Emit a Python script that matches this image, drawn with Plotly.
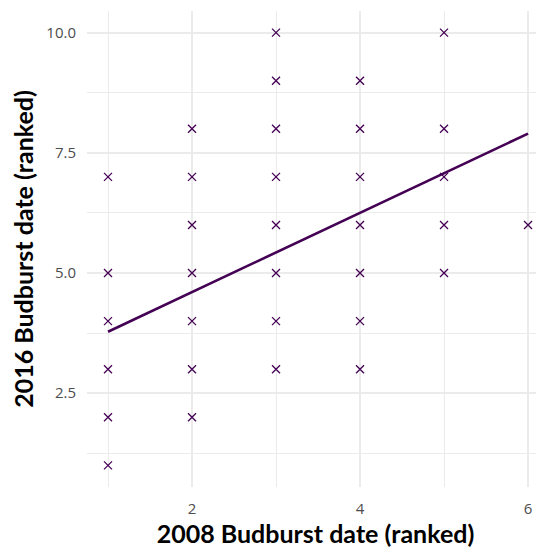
import plotly.graph_objects as go

# Observed points (2008 rank, 2016 rank)
x_2008 = [1, 1, 1, 1, 1, 1,
          2, 2, 2, 2, 2, 2, 2,
          3, 3, 3, 3, 3, 3, 3, 3,
          4, 4, 4, 4, 4, 4, 4,
          5, 5, 5, 5, 5,
          6]
y_2016 = [1, 2, 3, 4, 5, 7,
          2, 3, 4, 5, 6, 7, 8,
          3, 4, 5, 6, 7, 8, 9, 10,
          3, 4, 5, 6, 7, 8, 9,
          5, 6, 7, 8, 10,
          6]

# Fitted line endpoints
fit_x = [1, 6]
fit_y = [3.78, 7.9]

x_ticks = [2, 4, 6]
y_ticks = [2.5, 5.0, 7.5, 10.0]
y_tick_labels = ["2.5", "5.0", "7.5", "10.0"]

purple = "#440154"
grid = "#ebebeb"

fig = go.Figure()
fig.add_trace(go.Scatter(x=x_2008, y=y_2016, mode="markers",
                         marker=dict(symbol="x-thin", size=8, color=purple,
                                     line=dict(width=1.3, color=purple)),
                         showlegend=False))
fig.add_trace(go.Scatter(x=fit_x, y=fit_y, mode="lines",
                         line=dict(color=purple, width=2.6), showlegend=False))

fig.update_layout(
    width=544, height=549,
    margin=dict(l=79, r=8, t=3, b=70),
    paper_bgcolor="white", plot_bgcolor="white",
    font=dict(family="Lato, Open Sans, sans-serif"),
)
fig.update_xaxes(
    range=[0.75, 6.19], tickvals=x_ticks, ticks="",
    showgrid=True, gridcolor=grid, gridwidth=2,
    minor=dict(showgrid=True, gridcolor=grid, gridwidth=1, dtick=1, tick0=1),
    zeroline=False, showline=False, ticklabelstandoff=11,
    tickfont=dict(size=15, color="#4d4d4d", family="Open Sans"),
    title=dict(text="<b>2008 Budburst date (ranked)</b>", standoff=4,
               font=dict(size=25, color="black", family="Lato")),
)
fig.update_yaxes(
    range=[0.55, 10.45], tickvals=y_ticks, ticktext=y_tick_labels, ticks="",
    showgrid=True, gridcolor=grid, gridwidth=2,
    minor=dict(showgrid=True, gridcolor=grid, gridwidth=1, dtick=1.25, tick0=1.25),
    zeroline=False, showline=False, ticklabelstandoff=10,
    tickfont=dict(size=15, color="#4d4d4d", family="Open Sans"),
    title=dict(text="<b>2016 Budburst date (ranked)</b>", standoff=8,
               font=dict(size=25, color="black", family="Lato")),
)

fig.write_html("out.html")
